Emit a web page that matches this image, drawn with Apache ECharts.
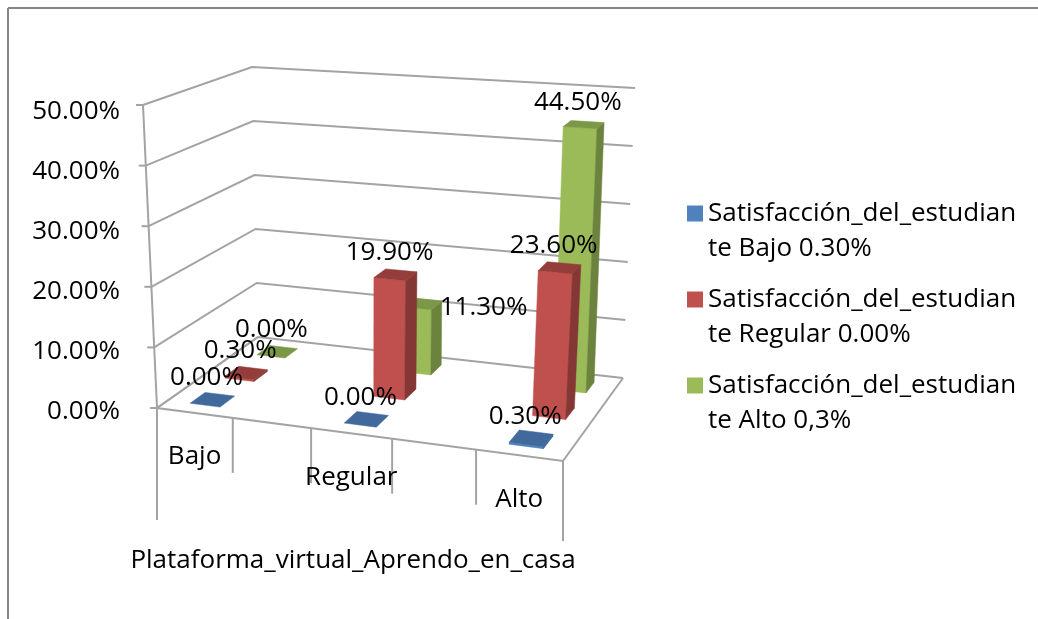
<!DOCTYPE html>
<html>
<head>
<meta charset="utf-8">
<style>
  html, body { margin: 0; padding: 0; background: #fff; }
  #chart { width: 1038px; height: 619px; }
</style>
</head>
<body>
<div id="chart"></div>
<script src="https://cdn.jsdelivr.net/npm/echarts@6/dist/echarts.min.js"></script>
<script>
const categories = ['Bajo', '', 'Regular', '', 'Alto']
const seriesNames = [
  'Satisfacción_del_estudian\nte Bajo 0.30%',
  'Satisfacción_del_estudian\nte Regular 0.00%',
  'Satisfacción_del_estudian\nte Alto 0,3%'
]
const bajoValues = [0, null, 0, null, 0.3]
const regularValues = [0.3, null, 19.9, null, 23.6]
const altoValues = [0, null, 11.3, null, 44.5]
const yTicks = [0, 10, 20, 30, 40, 50]
const xDividers = [0, 0.2, 0.4, 0.6, 0.8, 1]
const axisTitle = 'Plataforma_virtual_Aprendo_en_casa'

const FONT = '"Open Sans"'
const FONT_SIZE = 26
const GRID = { left: 130, top: 112, width: 446, height: 300 }
const GREY = '#a3a3a3'

// 图表是三维透视的，地面和顶面各用一个四边形投影
function quad(p0, p1, p2, p3) {
  const sx = p0[0] - p1[0] + p2[0] - p3[0]
  const sy = p0[1] - p1[1] + p2[1] - p3[1]
  const dx1 = p1[0] - p2[0], dy1 = p1[1] - p2[1]
  const dx2 = p3[0] - p2[0], dy2 = p3[1] - p2[1]
  const det = dx1 * dy2 - dx2 * dy1
  const g = (sx * dy2 - dx2 * sy) / det
  const h = (dx1 * sy - sx * dy1) / det
  return (u, d) => {
    const w = 1 + g * u + h * d
    return [
      (p0[0] + u * (p1[0] - p0[0] + g * p1[0]) + d * (p3[0] - p0[0] + h * p3[0])) / w,
      (p0[1] + u * (p1[1] - p0[1] + g * p1[1]) + d * (p3[1] - p0[1] + h * p3[1])) / w
    ]
  }
}
const floorAt = quad([157, 408], [563, 461], [623, 378], [258, 337])
const topAt = quad([143, 105], [583, 134], [635, 88], [252, 67])

function project(u, d, t) {
  const a = floorAt(u, d), b = topAt(u, d)
  return [a[0] + (b[0] - a[0]) * t, a[1] + (b[1] - a[1]) * t]
}

// 从隐藏的坐标轴换算成 0-1 的比例
const toU = (api, i) => (api.coord([i, 0])[0] - GRID.left) / GRID.width
const toT = (api, v) => (GRID.top + GRID.height - api.coord([0, v])[1]) / GRID.height

const poly = (points, fill, z2) => ({
  type: 'polygon', z2, shape: { points }, style: { fill, stroke: fill, lineWidth: 0.5 }
})
const line = (points) => ({
  type: 'polyline', shape: { points }, style: { fill: 'none', stroke: GREY, lineWidth: 2 }
})

const barColors = [
  { front: '#4F81BD', side: '#3A6292', top: '#41699B' },
  { front: '#C0504D', side: '#853735', top: '#943D3B' },
  { front: '#9BBB59', side: '#6C833E', top: '#7B9846' }
]
const BAR_U = 0.04
const BAR_D = 0.07
const FIRST_BAR_SERIES = 3

function renderBar(params, api) {
  const s = params.seriesIndex - FIRST_BAR_SERIES
  const value = api.value(1)
  const u = toU(api, api.value(0))
  const d = (s + 0.5) / 3
  const t = toT(api, value)
  const c = barColors[s]
  const u0 = u - BAR_U, u1 = u + BAR_U, d0 = d - BAR_D, d1 = d + BAR_D
  const children = []
  if (value > 0) {
    children.push(poly([project(u0, d0, 0), project(u1, d0, 0), project(u1, d0, t), project(u0, d0, t)], c.front, 1))
    children.push(poly([project(u1, d0, 0), project(u1, d1, 0), project(u1, d1, t), project(u1, d0, t)], c.side, 1))
  }
  children.push(poly([project(u0, d0, t), project(u1, d0, t), project(u1, d1, t), project(u0, d1, t)], c.top, 2))

  const center = project(u, d, t)
  // 11.30% 这个标签在原图里放在柱子右边
  const off = value === 11.3 ? [62, 4] : [-6, -22]
  children.push({
    type: 'text', z2: 5,
    style: {
      x: center[0] + off[0], y: center[1] + off[1],
      text: value.toFixed(2) + '%',
      font: FONT_SIZE + 'px ' + FONT, fill: '#000', align: 'center', verticalAlign: 'middle'
    }
  })
  return { type: 'group', children }
}

function renderGridLine(params, api) {
  const t = toT(api, api.value(0))
  const a = project(0, 0, t)
  const children = [
    line([a, project(0, 1, t), project(1, 1, t)]),
    line([[a[0] - 7, a[1]], a])
  ]
  return { type: 'group', children }
}

function renderFloor(params, api) {
  const u = api.value(0)
  const a = project(u, 0, 0)
  // 分隔线长度：两端更长
  const len = u === 0 ? 112 : u === 1 ? 80 : 55
  const children = [line([a, [a[0], a[1] + len]])]
  if (params.dataIndex === 0) {
    children.push(line([project(0, 1, 0), project(0, 0, 0), project(1, 0, 0), project(1, 1, 0)]))
    children.push(line([project(0, 0, 0), project(0, 0, 1)]))
  }
  return { type: 'group', children }
}

function renderCategory(params, api) {
  const u = toU(api, api.value(0))
  const a = project(u, 0, 0)
  return {
    type: 'text',
    style: {
      x: a[0], y: a[1] + 44, text: categories[api.value(0)],
      font: FONT_SIZE + 'px ' + FONT, fill: '#000', align: 'center', verticalAlign: 'middle'
    }
  }
}

const toData = (values) => values.map((v, i) => [i, v]).filter(p => p[1] !== null)

const barSeries = [bajoValues, regularValues, altoValues].map((values, i) => ({
  name: seriesNames[i],
  type: 'custom',
  renderItem: renderBar,
  data: toData(values),
  z: 10 - i,
  encode: { x: 0, y: 1 },
  clip: false,
  itemStyle: { color: barColors[i].front }
}))

const chart = echarts.init(document.getElementById('chart'))
chart.setOption({
  animation: false,
  backgroundColor: '#fff',
  textStyle: { fontFamily: FONT },
  grid: GRID,
  graphic: [
    { type: 'line', shape: { x1: 8, y1: 8, x2: 1038, y2: 8 }, style: { stroke: '#868686', lineWidth: 2 } },
    { type: 'line', shape: { x1: 8, y1: 8, x2: 8, y2: 619 }, style: { stroke: '#868686', lineWidth: 2 } }
  ],
  legend: {
    data: seriesNames,
    left: 682,
    top: 156,
    orient: 'vertical',
    icon: 'rect',
    itemWidth: 16,
    itemHeight: 16,
    itemGap: -19,
    formatter: name => '\n' + name,
    textStyle: { fontFamily: FONT, fontSize: FONT_SIZE, lineHeight: 35, color: '#000' }
  },
  xAxis: {
    type: 'category',
    data: categories,
    name: axisTitle,
    nameLocation: 'middle',
    nameGap: 136,
    nameTextStyle: { fontFamily: FONT, fontSize: FONT_SIZE, color: '#000' },
    axisLine: { show: false },
    axisTick: { show: false },
    axisLabel: { show: false }
  },
  yAxis: {
    type: 'value',
    min: 0,
    max: 50,
    interval: 10,
    axisLine: { show: false },
    axisTick: { show: false },
    splitLine: { show: false },
    axisLabel: {
      margin: 10,
      formatter: v => v.toFixed(2) + '%',
      fontFamily: FONT,
      fontSize: FONT_SIZE,
      color: '#000'
    }
  },
  series: [
    { name: 'grid', type: 'custom', renderItem: renderGridLine, data: yTicks.map(v => [v]), encode: { y: 0 }, z: 1, silent: true, clip: false },
    { name: 'floor', type: 'custom', renderItem: renderFloor, data: xDividers.map(v => [v]), z: 2, silent: true, clip: false },
    { name: 'cats', type: 'custom', renderItem: renderCategory, data: categories.map((c, i) => [i]).filter(p => categories[p[0]]), z: 3, silent: true, clip: false }
  ].concat(barSeries)
})
</script>
</body>
</html>
